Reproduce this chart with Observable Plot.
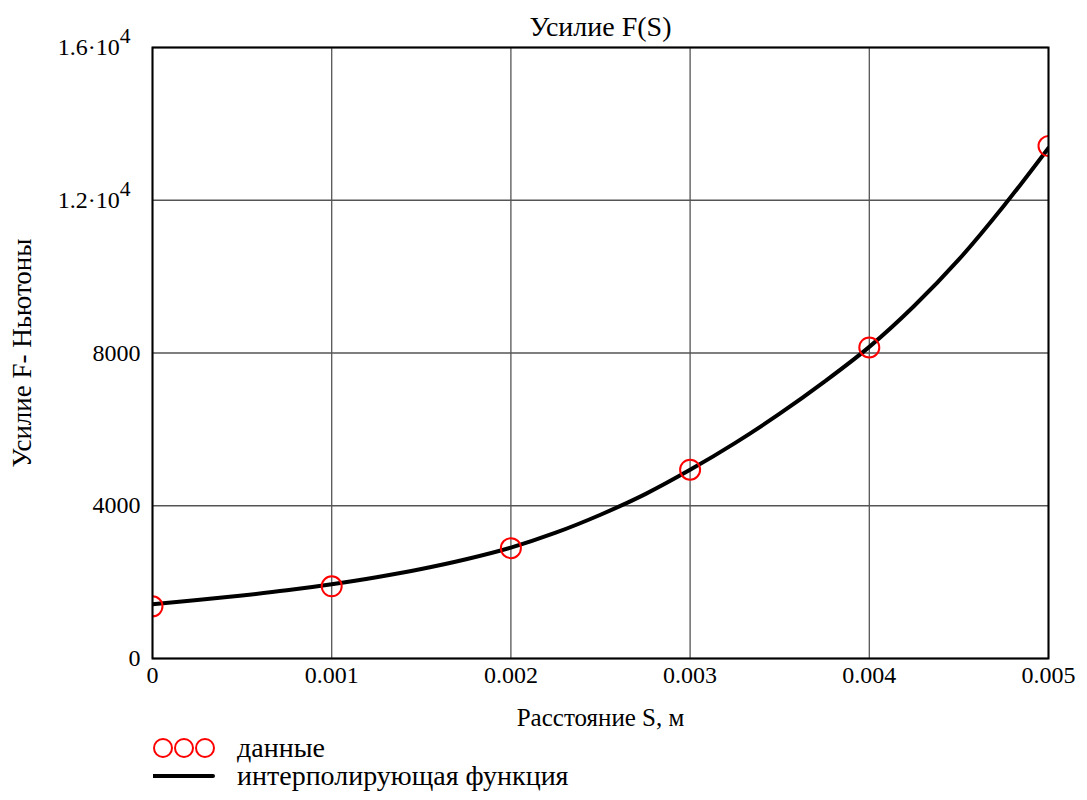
<!DOCTYPE html>
<html>
<head>
<meta charset="utf-8">
<script src="https://cdn.jsdelivr.net/npm/d3@7"></script>
<script src="https://cdn.jsdelivr.net/npm/@observablehq/plot@0.6"></script>
<style>
  body { margin: 0; background: white; font-family: "Liberation Serif", "Times New Roman", serif; }
  #legend { position: relative; width: 1087px; height: 65px; font-size: 28px; line-height: 1; color: black; font-family: "Liberation Serif", "Times New Roman", serif; }
  .row { position: absolute; left: 153px; display: flex; align-items: center; height: 26px; }
  .row svg { width: 62px; height: 26px; margin-right: 22px; }
  .row span { line-height: 1; }
  #chart svg text { font-family: "Liberation Serif", "Times New Roman", serif !important; font-variant: normal !important; }
</style>
</head>
<body>
<div id="chart"></div>
<div id="legend">
  <div class="row" style="top:0px">
    <svg viewBox="0 0 62 26"><circle cx="10" cy="13" r="9" fill="none" stroke="red" stroke-width="2"/><circle cx="31" cy="13" r="9" fill="none" stroke="red" stroke-width="2"/><circle cx="52" cy="13" r="9" fill="none" stroke="red" stroke-width="2"/></svg>
    <span id="lg1"></span>
  </div>
  <div class="row" style="top:28px">
    <svg viewBox="0 0 62 26"><line x1="0" y1="13" x2="60" y2="13" stroke="black" stroke-width="4" stroke-linecap="round"/></svg>
    <span id="lg2"></span>
  </div>
</div>
<script>
// --- data ---
const titleText = "Усилие F(S)";
const xLabel = "Расстояние S, м";
const yLabel = "Усилие F- Ньютоны";
const legendLabels = ["данные", "интерполирующая функция"];

const sData = [0, 0.001, 0.002, 0.003, 0.004, 0.005];
const fData = [1365, 1890, 2890, 4945, 8145, 13420];

const sCurve = [0, 0.00025, 0.0005, 0.00075, 0.001, 0.00125, 0.0015, 0.00175, 0.002, 0.00225,
                0.0025, 0.00275, 0.003, 0.00325, 0.0035, 0.00375, 0.004, 0.00425, 0.0045, 0.00475, 0.005];
const fCurve = [1420, 1530, 1650, 1785, 1945, 2130, 2345, 2600, 2905, 3295,
                3765, 4305, 4940, 5640, 6410, 7250, 8160, 9230, 10450, 11850, 13370];

const xTicks = [0, 0.001, 0.002, 0.003, 0.004, 0.005];
const xTickLabels = ["0", "0.001", "0.002", "0.003", "0.004", "0.005"];
const yTicks = [0, 4000, 8000, 12000, 16000];
const yTickLabels = ["0", "4000", "8000", "1.2·10^4", "1.6·10^4"];

// --- build tables ---
const points = sData.map((s, i) => ({s, f: fData[i]}));
const curve = sCurve.map((s, i) => ({s, f: fCurve[i]}));

const serif = "'Liberation Serif', 'Times New Roman', serif";

const chart = Plot.plot({
  width: 1087,
  height: 735,
  marginTop: 47,
  marginBottom: 77,
  marginLeft: 152,
  marginRight: 39,
  style: {fontFamily: serif, fontSize: "24px", color: "black", background: "white"},
  x: {domain: [0, 0.005]},
  y: {domain: [0, 16000]},
  marks: [
    Plot.gridX(xTicks, {stroke: "#555", strokeOpacity: 1, strokeWidth: 1.3}),
    Plot.gridY(yTicks, {stroke: "#555", strokeOpacity: 1, strokeWidth: 1.3}),
    Plot.axisX({ticks: xTicks, tickFormat: d => xTickLabels[xTicks.indexOf(d)], tickSize: 0, tickPadding: 7, label: null, fontSize: 24, fontFamily: serif}),
    Plot.axisY({ticks: yTicks, tickFormat: d => yTickLabels[yTicks.indexOf(d)], tickSize: 0, tickPadding: 12, label: null, fontSize: 24, fontFamily: serif}),
    Plot.line(curve, {x: "s", y: "f", stroke: "black", strokeWidth: 4, curve: "catmull-rom", clip: true}),
    Plot.dot(points, {x: "s", y: "f", r: 10, stroke: "red", strokeWidth: 2, fill: "none", clip: true}),
    Plot.frame({stroke: "black", strokeWidth: 2}),
    Plot.text([titleText], {text: d => d, frameAnchor: "top", lineAnchor: "middle", textAnchor: "middle", dy: -20, fontSize: 28, fontFamily: serif}),
    Plot.text([xLabel], {text: d => d, frameAnchor: "bottom", lineAnchor: "middle", textAnchor: "middle", dy: 59, fontSize: 25, fontFamily: serif}),
    Plot.text([yLabel], {text: d => d, frameAnchor: "left", lineAnchor: "middle", textAnchor: "middle", rotate: -90, dx: -130, fontSize: 27, fontFamily: serif})
  ]
});

// serif tick labels, superscripts on y tick labels
d3.select(chart).selectAll('g[aria-label$="tick label"]').attr("font-family", serif).attr("font-variant", "normal");
d3.select(chart).selectAll('g[aria-label="y-axis tick label"] text').each(function() {
  const t = this.textContent;
  if (t.includes("^")) {
    const [base, exp] = t.split("^");
    this.textContent = base;
    d3.select(this).attr("dx", -10);
    d3.select(this).append("tspan").attr("dy", "-0.55em").attr("font-size", "0.9em").text(exp);
  }
});

document.getElementById("chart").appendChild(chart);
document.getElementById("lg1").textContent = legendLabels[0];
document.getElementById("lg2").textContent = legendLabels[1];
</script>
</body>
</html>
